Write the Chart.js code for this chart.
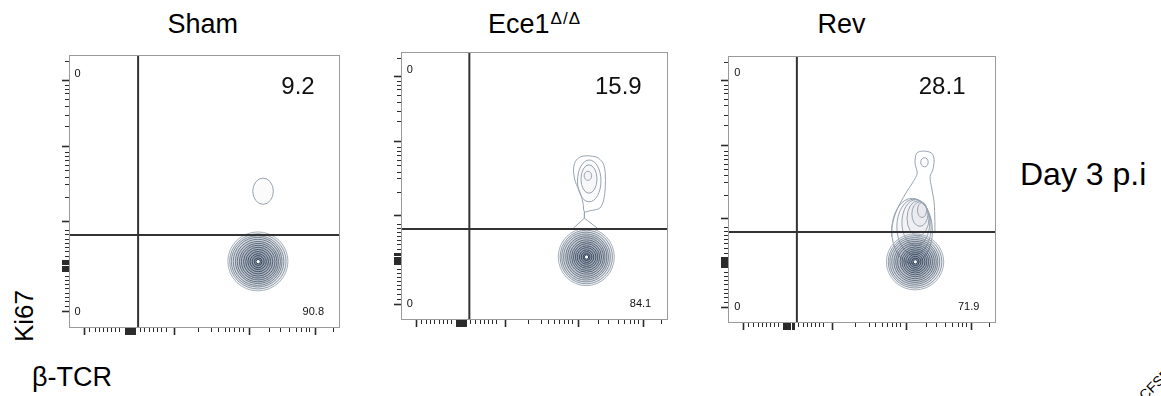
<!DOCTYPE html>
<html><head><meta charset="utf-8">
<script src="https://cdn.jsdelivr.net/npm/chart.js@4.4.1/dist/chart.umd.min.js"></script>
<style>
html,body{margin:0;padding:0;background:#fff;width:1161px;height:396px;overflow:hidden;position:relative;font-family:"Liberation Sans",Arial,Helvetica,sans-serif;color:#000}
.txt{position:absolute;white-space:nowrap;line-height:1}
canvas{position:absolute}
</style></head><body>
<script>
// ---------- data ----------
const panelTitles = ["Sham", "Ece1", "Rev"];
const titleSuperscripts = ["", "Δ/Δ", ""];
const yAxisLabel = "Ki67";
const xAxisLabel = "β-TCR";
const rowLabel = "Day 3 p.i";
const cornerLabel = "CFSE";

// quadrant percentages: Q1 (upper-left), Q2 (upper-right), Q3 (lower-left), Q4 (lower-right)
const q1Pct = [0, 0, 0];
const q2Pct = [9.2, 15.9, 28.1];
const q3Pct = [0, 0, 0];
const q4Pct = [90.8, 84.1, 71.9];

// quadrant gates (display channel units, 0..1000)
const gateX = [255, 256, 257];
const gateY = [341, 340, 341];

// biexponential axis tick positions (display channels)
const majorTicks = [59, 207, 211, 215, 219, 223, 227, 231, 235, 239, 243, 247, 391, 665, 908];
const minorTicks = [77, 96, 112, 127, 143, 158, 173, 188, 262, 280, 296, 311, 326, 342, 358,
  477, 527, 551, 576, 594, 612, 628, 643, 739, 779, 813, 838, 859, 875, 889, 975];

// contour levels: [centre x, centre y, half-width, half-height] in channels
const shamMain = [[697,244,111,108],[697,244,104,101],[696,244,97,94],[696,244,90,88],[697,244,83,81],
  [697,243,76,74],[698,243,69,67],[698,243,62,60],[698,243,54,53],[698,243,46,45],[698,243,38,37],
  [698,243,30,29],[698,243,22,22],[698,243,14,14],[698,243,8,8]];
const shamSide = [[716,501,38,48]];

const eceMain = [[694,235,105,107],[694,235,98,100],[693,235,91,93],[693,235,84,86],[694,235,77,79],
  [694,235,70,72],[695,235,63,64],[695,235,56,57],[695,235,49,50],[695,235,42,42],[695,235,35,35],
  [695,235,27,27],[695,235,20,20],[695,235,13,13],[695,235,8,8]];
const eceSide = [[705,519,44,78],[704,526,30,53],[700,538,14,17]];
const eceOuter = [[700,613],[734,607],[757,585],[765,547],[765,497],[759,448],[744,417],[709,408],
  [687,404],[682,435],[672,473],[653,516],[646,560],[653,591],[672,609],[700,613]];
const eceTail = [[646,343],[687,380],[735,343]];
const eceNeck = [[687,404],[687,380]];

const revMain = [[698,229,107,105],[698,229,100,98],[697,229,93,91],[697,229,86,84],[698,229,79,77],
  [698,229,72,70],[698,229,65,63],[699,229,57,56],[699,229,50,49],[699,229,43,42],[699,229,36,35],
  [699,229,28,28],[699,229,21,21],[699,229,14,14],[699,229,8,8]];
const revSide = [[687,345,76,122],[694,360,64,104],[701,376,52,86],[709,392,41,66],[716,408,30,46],
  [724,423,17,28],[733,602,14,17]];
const revOuter = [[611,323],[611,355],[623,405],[642,448],[667,492],[691,529],[706,561],[698,598],
  [704,636],[729,644],[760,636],[769,611],[764,573],[754,548],[760,505],[769,454],[772,379],[772,336]];

// ---------- layout ----------
const panelBoxes = [{left:69,top:55,w:271,h:273},{left:401,top:52,w:267,h:268},{left:728,top:56,w:268,h:267}];
const q1Pos = [[20,920],[22,920],[23,924]];
const q2Pos = [[845,857],[814,842],[799,857]];
const q3Pos = [[20,48],[22,50],[23,49]];
const q4Pos = [[941,48],[937,50],[938,49]];

const panels = [
  {main: shamMain, side: shamSide, outlines: []},
  {main: eceMain, side: eceSide, outlines: [eceOuter, eceTail, eceNeck]},
  {main: revMain, side: revSide, outlines: [revOuter]}
];

function addText(text, css) {
  const d = document.createElement('div');
  d.className = 'txt';
  d.textContent = text;
  Object.assign(d.style, css);
  document.body.appendChild(d);
  return d;
}

// titles
const titleCenters = [202.7, 534.5, 841.5];
panelTitles.forEach((t, i) => {
  const d = addText(t, {left:(titleCenters[i]-100)+'px', width:'200px', textAlign:'center', top:'11.4px', fontSize:'27px'});
  if (titleSuperscripts[i]) {
    const s = document.createElement('span');
    s.textContent = titleSuperscripts[i];
    Object.assign(s.style, {fontSize:'17px', position:'relative', top:'-9.5px', letterSpacing:'1px', marginLeft:'1px'});
    d.appendChild(s);
  }
});
addText(yAxisLabel, {left:'33px', top:'320px', fontSize:'26px', transformOrigin:'0 22px', transform:'rotate(-90deg)'});
addText(xAxisLabel, {left:'32px', top:'363.6px', fontSize:'27px'});
addText(rowLabel, {left:'1020px', top:'157.9px', fontSize:'32px'});
addText(cornerLabel, {left:'1145px', top:'389px', fontSize:'14px', transformOrigin:'0 11.85px', transform:'rotate(-45deg)'});

function mix(a, b, t) { return 'rgb(' + a.map((v, k) => Math.round(v + (b[k]-v)*t)).join(',') + ')'; }
const LIGHT = [168,178,188], DARK = [44,62,82], SIDE = '#97a3af';

function makePlugin(i) {
  const p = panels[i];
  return {
    id: 'flow' + i,
    beforeDatasetsDraw(chart) {
      const {ctx, chartArea: a, scales: {x, y}} = chart;
      ctx.save();
      ctx.beginPath(); ctx.rect(a.left, a.top, a.right - a.left, a.bottom - a.top); ctx.clip();
      const ell = r => {
        const px = x.getPixelForValue(r[0]), py = y.getPixelForValue(r[1]);
        const rx = Math.abs(x.getPixelForValue(r[0] + r[2]) - px);
        const ry = Math.abs(y.getPixelForValue(r[1] + r[3]) - py);
        ctx.beginPath(); ctx.ellipse(px, py, rx, ry, 0, 0, Math.PI * 2);
      };
      ctx.lineWidth = 1;
      p.side.forEach(r => { ell(r); ctx.fillStyle = 'rgba(120,135,150,0.03)'; ctx.fill(); ctx.strokeStyle = SIDE; ctx.stroke(); });
      const n = p.main.length;
      p.main.forEach((r, k) => {
        ell(r);
        if (k === n - 1) { ctx.fillStyle = '#fff'; ctx.fill(); }
        else { ctx.fillStyle = 'rgba(80,100,122,0.07)'; ctx.fill(); }
        ctx.strokeStyle = mix(LIGHT, DARK, Math.pow(k / (n - 1), 0.6));
        ctx.stroke();
      });
      ctx.restore();
    },
    afterDatasetsDraw(chart) {
      const {ctx, chartArea: a, scales: {x, y}} = chart;
      ctx.save();
      ctx.strokeStyle = '#9a9a9a'; ctx.lineWidth = 1;
      ctx.strokeRect(a.left + 0.5, a.top + 0.5, a.right - a.left - 1, a.bottom - a.top - 1);
      ctx.fillStyle = '#111';
      ctx.textBaseline = 'alphabetic';
      ctx.font = '11px "Liberation Sans", Arial, sans-serif'; ctx.textAlign = 'left';
      ctx.fillText(String(q1Pct[i]), x.getPixelForValue(q1Pos[i][0]), y.getPixelForValue(q1Pos[i][1]));
      ctx.fillText(String(q3Pct[i]), x.getPixelForValue(q3Pos[i][0]), y.getPixelForValue(q3Pos[i][1]));
      ctx.textAlign = 'right';
      ctx.fillText(String(q4Pct[i]), x.getPixelForValue(q4Pos[i][0]), y.getPixelForValue(q4Pos[i][1]));
      ctx.font = '24px "Liberation Sans", Arial, sans-serif'; ctx.textAlign = 'center';
      ctx.fillText(String(q2Pct[i]), x.getPixelForValue(q2Pos[i][0]), y.getPixelForValue(q2Pos[i][1]));
      ctx.restore();
    }
  };
}

const allTicks = majorTicks.concat(minorTicks).sort((a, b) => a - b);
function axisOpts(axis) {
  return {
    type: 'linear', position: axis === 'x' ? 'bottom' : 'left', min: 0, max: 1000,
    afterBuildTicks: s => { s.ticks = allTicks.map(v => ({value: v})); },
    afterFit: s => { if (axis === 'x') s.height = 14; else s.width = 14; },
    ticks: {display: false},
    border: {display: false},
    grid: {
      drawOnChartArea: false, drawTicks: true, tickLength: 7, tickColor: '#2b2b2b',
      tickWidth: c => (c.tick && [59, 391, 665, 908].includes(c.tick.value)) ? 1.6 : 1,
      tickBorderDash: c => (c.tick && majorTicks.includes(c.tick.value)) ? [] : (axis === 'x' ? [4, 3] : [0, 3, 4, 0])
    }
  };
}

panelBoxes.forEach((b, i) => {
  const cv = document.createElement('canvas');
  const W = b.w + 16, H = b.h + 16;
  cv.width = W; cv.height = H;
  cv.style.left = (b.left - 14) + 'px'; cv.style.top = (b.top - 2) + 'px';
  cv.style.width = W + 'px'; cv.style.height = H + 'px';
  document.body.appendChild(cv);
  const datasets = [
    {data: [{x: gateX[i], y: 0}, {x: gateX[i], y: 1000}], showLine: true, borderColor: '#333', borderWidth: 2, pointRadius: 0},
    {data: [{x: 0, y: gateY[i]}, {x: 1000, y: gateY[i]}], showLine: true, borderColor: '#333', borderWidth: 2, pointRadius: 0}
  ];
  panels[i].outlines.forEach(o => datasets.push({
    data: o.map(pt => ({x: pt[0], y: pt[1]})), showLine: true, borderColor: SIDE, borderWidth: 1,
    pointRadius: 0, tension: o.length > 3 ? 0.3 : 0, fill: false
  }));
  new Chart(cv, {
    type: 'scatter',
    data: {datasets},
    options: {
      responsive: false, animation: false, devicePixelRatio: 1, events: [],
      layout: {padding: {top: 2, right: 2, left: 0, bottom: 0}},
      plugins: {legend: {display: false}, tooltip: {enabled: false}, title: {display: false}},
      scales: {x: axisOpts('x'), y: axisOpts('y')}
    },
    plugins: [makePlugin(i)]
  });
});
</script>
</body></html>
